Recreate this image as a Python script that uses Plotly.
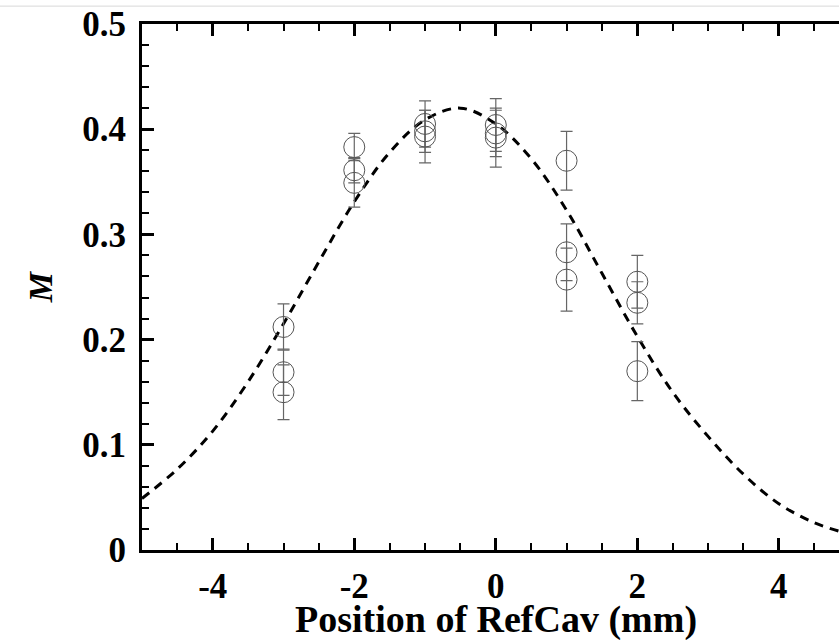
import plotly.graph_objects as go

# measured M vs RefCav position
x_pos = [-3, -3, -3, -2, -2, -2, -1, -1, -1, 0, 0, 0, 1, 1, 1, 2, 2, 2]
m_val = [0.212, 0.169, 0.150, 0.383, 0.361, 0.349, 0.405, 0.398, 0.393,
         0.404, 0.396, 0.392, 0.370, 0.283, 0.257, 0.255, 0.235, 0.170]
m_err = [0.022, 0.022, 0.026, 0.013, 0.012, 0.023, 0.022, 0.020, 0.025,
         0.025, 0.022, 0.028, 0.028, 0.027, 0.030, 0.025, 0.020, 0.028]

# dashed fit curve
fit_x = [-5, -4.5, -4, -3.5, -3, -2.5, -2, -1.5, -1, -0.5,
         0, 0.5, 1, 1.5, 2, 2.5, 3, 3.5, 4, 4.5, 5]
fit_y = [0.049, 0.077, 0.113, 0.160, 0.215, 0.274, 0.331, 0.378, 0.409, 0.420,
         0.405, 0.372, 0.323, 0.263, 0.203, 0.150, 0.108, 0.072, 0.044, 0.026, 0.015]

x_ticks = [-4, -2, 0, 2, 4]
x_labels = ["-4", "-2", "0", "2", "4"]
y_ticks = [0, 0.1, 0.2, 0.3, 0.4, 0.5]
y_labels = ["0", "0.1", "0.2", "0.3", "0.4", "0.5"]

serif = "Liberation Serif, Times New Roman, serif"

fig = go.Figure()

fig.add_trace(go.Scatter(
    x=fit_x, y=fit_y, mode="lines", line_shape="spline",
    line=dict(color="black", width=3, dash="9px,7px"),
    showlegend=False,
))

fig.add_trace(go.Scatter(
    x=x_pos, y=m_val, mode="markers",
    marker=dict(symbol="circle-open", size=21, color="#555555",
                line=dict(width=1, color="#555555")),
    error_y=dict(type="data", array=m_err, visible=True,
                 color="#666666", thickness=1.2, width=6),
    showlegend=False,
))

fig.update_layout(
    width=839, height=640,
    margin=dict(l=142, r=0, t=24, b=90),
    paper_bgcolor="white", plot_bgcolor="white",
    font=dict(family=serif, color="black"),
    shapes=[dict(type="line", xref="paper", yref="paper",
                 x0=-0.21, x1=1.0, y0=1.034, y1=1.034,
                 line=dict(color="#d8d8d8", width=1))],
    annotations=[dict(text="<b>Position of RefCav (mm)</b>", xref="x", yref="paper",
                      x=0, y=-0.133, xanchor="center", yanchor="middle",
                      showarrow=False, font=dict(family=serif, size=38))],
)

fig.update_xaxes(
    range=[-5, 4.85], showgrid=False, zeroline=False, automargin=False,
    showline=True, linecolor="black", linewidth=3, mirror="allticks",
    ticks="inside", ticklen=12, tickwidth=3, tickcolor="black",
    tickvals=x_ticks, ticktext=x_labels, ticklabelstandoff=3,
    tickfont=dict(family=serif, size=35, weight="bold"),
    minor=dict(dtick=0.5, ticks="inside", ticklen=7, tickwidth=2, tickcolor="black"),
)

fig.update_yaxes(
    range=[0, 0.5], showgrid=False, zeroline=False, automargin=False,
    showline=True, linecolor="black", linewidth=3,
    ticks="inside", ticklen=12, tickwidth=3, tickcolor="black",
    tickvals=y_ticks, ticktext=y_labels, ticklabelstandoff=6,
    tickfont=dict(family=serif, size=35, weight="bold"),
    minor=dict(dtick=0.02, ticks="inside", ticklen=7, tickwidth=2, tickcolor="black"),
    title=dict(text="<i>M</i>", standoff=20,
               font=dict(family=serif, size=34, weight="bold")),
)

fig.write_html("out.html", config={"displayModeBar": False},
               post_script="document.body.style.margin='0';")
